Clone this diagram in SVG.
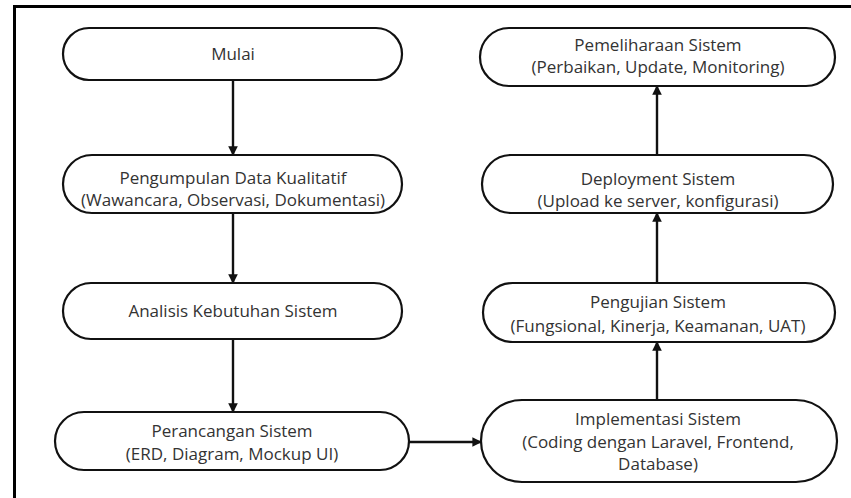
<svg xmlns="http://www.w3.org/2000/svg" width="851" height="498" viewBox="0 0 851 498">
<defs>
<style>
.node{fill:#fff;stroke:#111;stroke-width:2.2}
.t{font-family:"Open Sans","Liberation Sans",sans-serif;font-size:17px;fill:#333;text-anchor:middle}
.c{fill:none;stroke:#111;stroke-width:2.4}
</style>
<marker id="ah" viewBox="0 0 10 10" refX="9" refY="5" markerWidth="4" markerHeight="4" orient="auto" markerUnits="strokeWidth">
<path d="M0,0 L10,5 L0,10 z" fill="#111"/>
</marker>
</defs>
<rect width="851" height="498" fill="#fff"/>
<g id="frame">
<line x1="14.5" y1="6.5" x2="851" y2="6.5" stroke="#000" stroke-width="3"/>
<line x1="14.5" y1="5" x2="14.5" y2="498" stroke="#000" stroke-width="3"/>
</g>
<g id="connectors">
<line class="c" x1="233" y1="80" x2="233" y2="155" marker-end="url(#ah)"/>
<line class="c" x1="233" y1="213" x2="233" y2="283" marker-end="url(#ah)"/>
<line class="c" x1="233" y1="339" x2="233" y2="412" marker-end="url(#ah)"/>
<line class="c" x1="409" y1="442" x2="481" y2="442" marker-end="url(#ah)"/>
<line class="c" x1="657" y1="400" x2="657" y2="342" marker-end="url(#ah)"/>
<line class="c" x1="657" y1="283" x2="657" y2="213" marker-end="url(#ah)"/>
<line class="c" x1="657" y1="155" x2="657" y2="86" marker-end="url(#ah)"/>
</g>
<g id="mulai">
<rect class="node" x="63" y="28" width="339" height="52" rx="26"/>
<text class="t" x="233" y="60">Mulai</text>
</g>
<g id="pengumpulan">
<rect class="node" x="63" y="155" width="339" height="58" rx="29"/>
<text class="t" x="233" y="184">Pengumpulan Data Kualitatif</text>
<text class="t" x="233" y="206">(Wawancara, Observasi, Dokumentasi)</text>
</g>
<g id="analisis">
<rect class="node" x="63" y="283" width="339" height="56" rx="28"/>
<text class="t" x="233" y="317">Analisis Kebutuhan Sistem</text>
</g>
<g id="perancangan">
<rect class="node" x="55" y="412" width="354" height="58" rx="29"/>
<text class="t" x="232" y="437">Perancangan Sistem</text>
<text class="t" x="232" y="460">(ERD, Diagram, Mockup UI)</text>
</g>
<g id="implementasi">
<rect class="node" x="481" y="400" width="356" height="82" rx="41"/>
<text class="t" x="658" y="425">Implementasi Sistem</text>
<text class="t" x="658" y="448">(Coding dengan Laravel, Frontend,</text>
<text class="t" x="658" y="470">Database)</text>
</g>
<g id="pengujian">
<rect class="node" x="483" y="283" width="352" height="59" rx="29.5"/>
<text class="t" x="658" y="308">Pengujian Sistem</text>
<text class="t" x="658" y="332">(Fungsional, Kinerja, Keamanan, UAT)</text>
</g>
<g id="deployment">
<rect class="node" x="482" y="155" width="351" height="58" rx="29"/>
<text class="t" x="658" y="185">Deployment Sistem</text>
<text class="t" x="658" y="207">(Upload ke server, konfigurasi)</text>
</g>
<g id="pemeliharaan">
<rect class="node" x="480" y="28" width="355" height="58" rx="29"/>
<text class="t" x="658" y="51">Pemeliharaan Sistem</text>
<text class="t" x="658" y="73">(Perbaikan, Update, Monitoring)</text>
</g>
</svg>
